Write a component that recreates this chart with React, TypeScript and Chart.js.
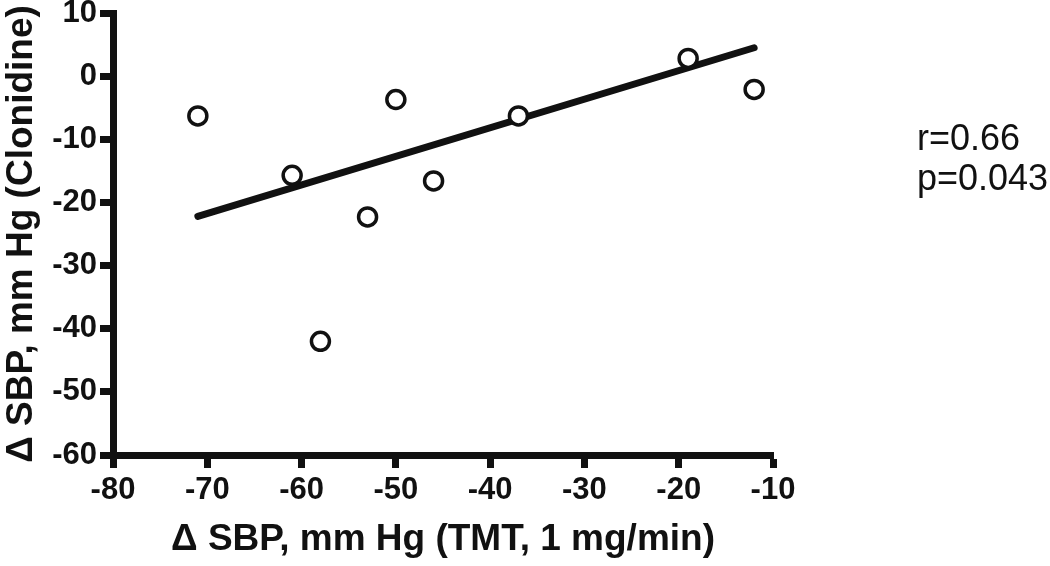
import React, { useEffect, useRef } from "react";
import { Chart, registerables } from "chart.js";

Chart.register(...registerables);

const xValues = [-71, -61, -58, -53, -50, -46, -37, -19, -12];
const yValues = [-6.3, -15.7, -42, -22.3, -3.7, -16.6, -6.3, 2.8, -2.1];
const fitX = [-71, -12];
const fitY = [-22.2, 4.5];
const statLines = ["r=0.66", "p=0.043"];
const xTitle = "Δ SBP, mm Hg (TMT, 1 mg/min)";
const yTitle = "Δ SBP, mm Hg (Clonidine)";

const FONT = "'Liberation Sans', Arial, Helvetica, sans-serif";
const INK = "#111111";

const statsPlugin = {
  id: "stats",
  afterDraw(chart: any) {
    const ctx = chart.ctx;
    ctx.save();
    ctx.fillStyle = INK;
    ctx.font = `normal 36px ${FONT}`;
    ctx.textAlign = "left";
    ctx.textBaseline = "alphabetic";
    ctx.fillText(statLines[0], 917, 150);
    ctx.fillText(statLines[1], 917, 190);
    ctx.restore();
  },
};

export default function App() {
  const ref = useRef<HTMLCanvasElement | null>(null);

  useEffect(() => {
    if (!ref.current) return;
    const chart = new Chart(ref.current, {
      type: "scatter",
      data: {
        datasets: [
          {
            type: "line",
            data: fitX.map((x, i) => ({ x, y: fitY[i] })),
            borderColor: INK,
            borderWidth: 7,
            borderCapStyle: "round",
            pointRadius: 0,
            fill: false,
            order: 2,
          } as any,
          {
            data: xValues.map((x, i) => ({ x, y: yValues[i] })),
            pointStyle: "circle",
            pointRadius: 9,
            pointBorderWidth: 3.5,
            pointBorderColor: INK,
            pointBackgroundColor: "#ffffff",
            order: 1,
          },
        ],
      },
      options: {
        responsive: false,
        animation: false,
        events: [],
        layout: { padding: { left: 0, top: 13, right: 277, bottom: 0 } },
        plugins: {
          legend: { display: false },
          tooltip: { enabled: false },
        },
        scales: {
          x: {
            type: "linear",
            min: -80,
            max: -10,
            ticks: {
              stepSize: 10,
              color: INK,
              font: { family: FONT, size: 31, weight: "bold" },
              padding: 4,
            },
            grid: {
              drawOnChartArea: false,
              drawTicks: true,
              tickLength: 13,
              tickWidth: 7,
              tickColor: INK,
            },
            border: { display: true, color: INK, width: 7 },
            title: {
              display: true,
              text: xTitle,
              color: INK,
              font: { family: FONT, size: 37, weight: "bold" },
              padding: { top: 0, bottom: 4 },
            },
            afterFit(scale: any) {
              scale.height = 111;
              scale.paddingLeft = 0;
              scale.paddingRight = 0;
            },
          },
          y: {
            type: "linear",
            min: -60,
            max: 10,
            ticks: {
              stepSize: 10,
              color: INK,
              font: { family: FONT, size: 31, weight: "bold" },
              padding: 3,
            },
            grid: {
              drawOnChartArea: false,
              drawTicks: true,
              tickLength: 13,
              tickWidth: 7,
              tickColor: INK,
            },
            border: { display: true, color: INK, width: 7 },
            title: {
              display: true,
              text: yTitle,
              color: INK,
              font: { family: FONT, size: 37, weight: "bold" },
              padding: { top: 0, bottom: 0 },
            },
            afterFit(scale: any) {
              scale.width = 113;
              scale.paddingTop = 0;
              scale.paddingBottom = 0;
            },
          },
        },
      },
      plugins: [statsPlugin],
    } as any);
    return () => chart.destroy();
  }, []);

  return (
    <div style={{ position: "absolute", left: 0, top: 0, width: 1050, height: 566, background: "#fff" }}>
      <canvas ref={ref} width={1050} height={566} style={{ display: "block" }} />
    </div>
  );
}
